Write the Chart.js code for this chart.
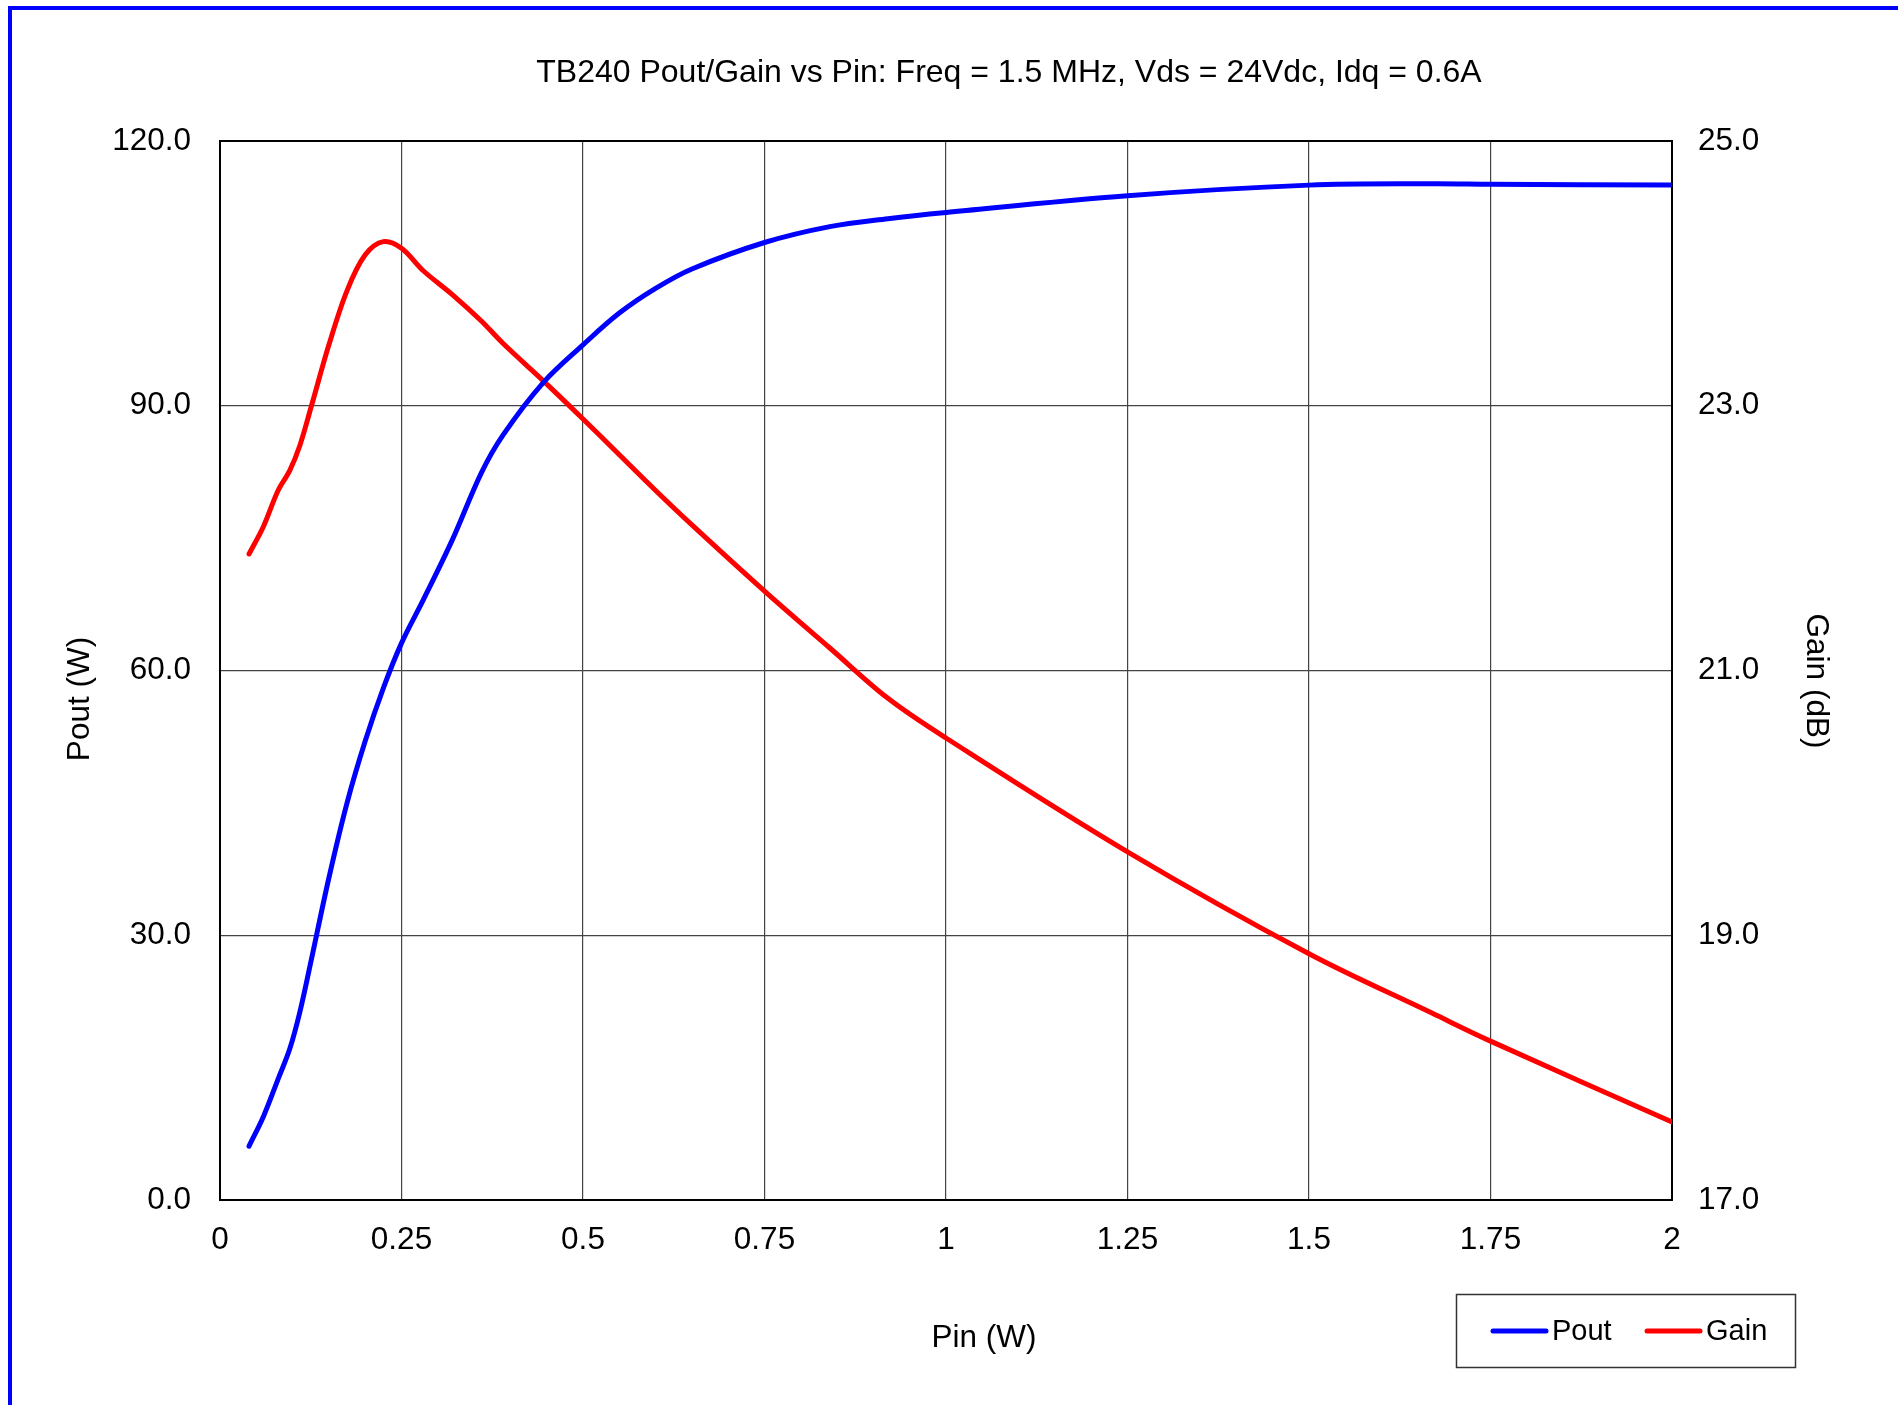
<!DOCTYPE html>
<html>
<head>
<meta charset="utf-8">
<title>TB240 Pout/Gain vs Pin</title>
<script src="https://cdn.jsdelivr.net/npm/chart.js@4.4.1/dist/chart.umd.min.js"></script>
<style>
  html, body { margin: 0; padding: 0; background: #fff; overflow: hidden; }
  canvas { display: block; }
</style>
</head>
<body>
<canvas id="chart" width="1898" height="1405"></canvas>
<script>
// values
const pin = [0.04, 0.06, 0.08, 0.096, 0.11, 0.126, 0.15, 0.175, 0.2, 0.225, 0.25, 0.28, 0.32, 0.36,
  0.39, 0.445, 0.5, 0.55, 0.6, 0.65, 0.75, 0.84, 0.92, 1.0, 1.25, 1.5, 1.67, 1.75, 2.0];
const pout = [6.1, 9.5, 13.7, 17.1, 21.3, 27.3, 36.5, 45.0, 52.0, 58.0, 63.1, 68.0, 74.8, 82.4,
  86.7, 92.6, 96.9, 100.5, 103.3, 105.5, 108.5, 110.3, 111.2, 111.9, 113.8, 115.0, 115.15, 115.1, 115.0];
const gain = [21.88, 22.09, 22.36, 22.51, 22.70, 23.0, 23.46, 23.87, 24.14, 24.24, 24.19, 24.02, 23.84, 23.64,
  23.47, 23.19, 22.90, 22.63, 22.36, 22.10, 21.60, 21.17, 20.79, 20.49, 19.63, 18.86, 18.41, 18.20, 17.59];

const xTicks = ['0', '0.25', '0.5', '0.75', '1', '1.25', '1.5', '1.75', '2'];
const titleText = 'TB240 Pout/Gain vs Pin: Freq = 1.5 MHz, Vds = 24Vdc, Idq = 0.6A';
const xTitle = 'Pin (W)';
const yTitle = 'Pout (W)';
const y2Title = 'Gain (dB)';

const FONT = '"Liberation Sans", Arial, sans-serif';
const pts = (xs, ys) => xs.map((x, i) => ({ x, y: ys[i] }));

// title, axis titles, frame, legend box
const decor = {
  id: 'decor',
  beforeDraw(chart) {
    const c = chart.ctx;
    c.save();
    c.fillStyle = '#fff';
    c.fillRect(0, 0, chart.width, chart.height);
    c.strokeStyle = '#0000ff';
    c.lineWidth = 4;
    c.beginPath();
    c.moveTo(10, chart.height + 5);
    c.lineTo(10, 8);
    c.lineTo(chart.width + 5, 8);
    c.stroke();
    c.restore();
  },
  beforeDatasetsDraw(chart) {
    const { ctx: c, chartArea: a } = chart;
    c.save();
    c.strokeStyle = '#000';
    c.lineWidth = 2;
    c.strokeRect(a.left, a.top, a.right - a.left, a.bottom - a.top);
    c.restore();
  },
  afterDraw(chart) {
    const c = chart.ctx;
    c.save();
    c.fillStyle = '#000';
    c.textAlign = 'center';
    c.textBaseline = 'middle';
    c.font = `32px ${FONT}`;
    c.fillText(titleText, 1009, 73);
    c.font = `31.5px ${FONT}`;
    c.fillText(xTitle, 984, 1338);

    c.save();
    c.translate(80, 699);
    c.rotate(-Math.PI / 2);
    c.fillText(yTitle, 0, 0);
    c.restore();

    c.save();
    c.translate(1816, 681);
    c.rotate(Math.PI / 2);
    c.fillText(y2Title, 0, 0);
    c.restore();

    // legend
    c.strokeStyle = '#333';
    c.lineWidth = 1.5;
    c.strokeRect(1456.5, 1294.5, 339, 73);
    c.font = `29px ${FONT}`;
    c.textAlign = 'left';
    const starts = [1493, 1647];
    chart.data.datasets.forEach((ds, i) => {
      const x0 = starts[i];
      c.strokeStyle = ds.borderColor;
      c.lineWidth = 5;
      c.lineCap = 'round';
      c.beginPath();
      c.moveTo(x0, 1331);
      c.lineTo(x0 + 53, 1331);
      c.stroke();
      c.fillText(ds.label, x0 + 59, 1332);
    });
    c.restore();
  }
};

const gridColor = '#444';

new Chart(document.getElementById('chart'), {
  type: 'scatter',
  data: {
    datasets: [
      { label: 'Pout', data: pts(pin, pout), yAxisID: 'y', borderColor: '#0000ff', showLine: true,
        borderWidth: 5, pointRadius: 0, tension: 0.35, borderCapStyle: 'round' },
      { label: 'Gain', data: pts(pin, gain), yAxisID: 'y2', borderColor: '#ff0000', showLine: true,
        borderWidth: 5, pointRadius: 0, tension: 0.35, borderCapStyle: 'round' }
    ]
  },
  options: {
    responsive: false,
    animation: false,
    devicePixelRatio: 1,
    layout: { padding: { top: 141, left: 0, right: 0, bottom: 0 } },
    plugins: { legend: { display: false }, title: { display: false }, tooltip: { enabled: false } },
    font: { family: FONT },
    scales: {
      x: {
        type: 'linear', min: 0, max: 2,
        afterFit: s => { s.height = 205; },
        ticks: { stepSize: 0.25, padding: 21, color: '#000', font: { size: 31.5, family: FONT },
          callback: (v, i) => xTicks[i] ?? v, maxRotation: 0, autoSkip: false },
        grid: { color: gridColor, lineWidth: 1.2, drawTicks: false },
        border: { color: '#000', width: 2 }
      },
      y: {
        position: 'left', min: 0, max: 120,
        afterFit: s => { s.width = 220; },
        ticks: { stepSize: 30, padding: 29, color: '#000', font: { size: 31.5, family: FONT },
          callback: v => v.toFixed(1) },
        grid: { color: gridColor, lineWidth: 1.2, drawTicks: false },
        border: { color: '#000', width: 2 }
      },
      y2: {
        position: 'right', min: 17, max: 25,
        afterFit: s => { s.width = 226; },
        ticks: { stepSize: 2, padding: 26, color: '#000', font: { size: 31.5, family: FONT },
          callback: v => v.toFixed(1) },
        grid: { drawOnChartArea: false, drawTicks: false },
        border: { color: '#000', width: 2 }
      }
    }
  },
  plugins: [decor]
});
</script>
</body>
</html>
